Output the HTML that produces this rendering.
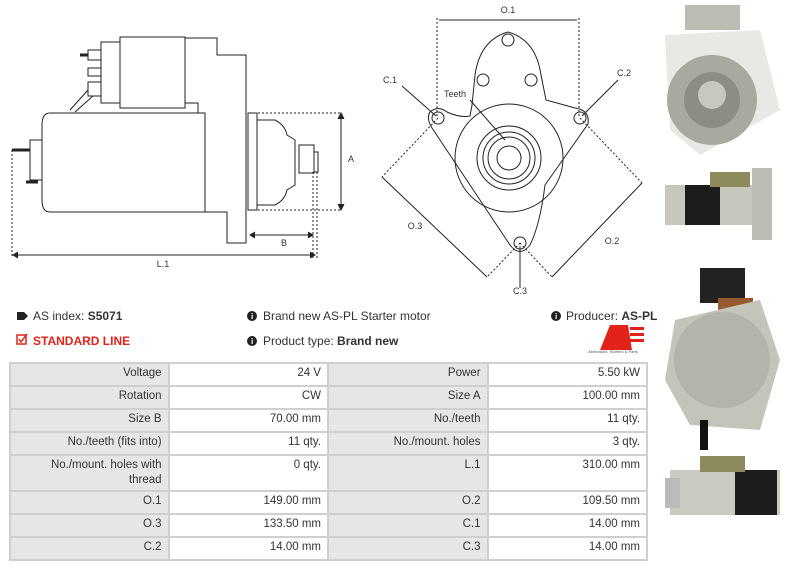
<!DOCTYPE html>
<html><head><meta charset="utf-8"><style>
body{margin:0;width:800px;height:569px;background:#fff;font-family:"Liberation Sans",sans-serif;position:relative;overflow:hidden;color:#333}
.t{position:absolute;font-size:12px;white-space:nowrap}
table{position:absolute;left:9px;top:362px;width:639px;border-collapse:collapse;font-size:11.5px;color:#333}
td{border:2px solid #cfcfcf;text-align:right;padding:2px 6px;height:17px;vertical-align:top;line-height:15px}
td.l{background:#e6e6e6}
</style></head><body>
<svg width="800" height="569" style="position:absolute;left:0;top:0" fill="none" stroke="#222" stroke-width="1">
<!-- left side view -->
<rect x="101" y="42" width="19" height="61"/>
<rect x="120" y="37" width="65" height="71"/>
<rect x="88" y="50" width="13" height="10"/><line x1="80" y1="55" x2="88" y2="55" stroke-width="3"/>
<rect x="88" y="68" width="13" height="8"/>
<rect x="88" y="82" width="13" height="14"/>
<path d="M88 90 L70 110 M93 96 L75 112"/>
<path d="M185 38 L217 38 L217 55 L246 55 L246 243 L227 243 L227 212 L205 212"/>
<path d="M185 103 L198 103 L198 113"/>
<path d="M50 113 L205 113 L205 212 L50 212 Q42 212 42 200 L42 125 Q42 113 50 113 Z"/>
<rect x="30" y="140" width="12" height="40"/><line x1="12" y1="150" x2="30" y2="150" stroke-width="3"/><line x1="26" y1="182" x2="38" y2="182" stroke-width="3"/>
<rect x="248" y="113" width="9" height="97"/>
<path d="M257 120 L275 120 Q285 125 287 135 L295 140 L295 185 L287 190 Q285 200 275 205 L257 205"/>
<rect x="299" y="145" width="15" height="28"/><rect x="314" y="152" width="4" height="20"/>
<g stroke-dasharray="2,2"><path d="M250 113 L341 113 M250 210 L341 210 M313 172 L313 258 M317 172 L317 258 M12 150 L12 258"/></g>
<path d="M341 115 L341 208 M250 235 L312 235 M13 255 L315 255"/>
<path d="M338 119 L341 113 L344 119 M338 204 L341 210 L344 204 M255 232 L250 235 L255 238 M308 232 L313 235 L308 238 M18 252 L13 255 L18 258 M310 252 L315 255 L310 258" fill="#222"/>
<!-- front view -->
<path d="M430 112 Q438 105 447 112 Q460 118 470 116 L472 105 L475 75 Q480 40 508 32 Q536 40 541 75 L546 100 L575 108 Q590 110 588 124 L545 185 Q540 225 530 245 Q520 258 510 245 L432 128 Q426 118 430 112 Z"/>
<circle cx="508" cy="40" r="6"/><circle cx="483" cy="80" r="6"/><circle cx="531" cy="80" r="6"/>
<circle cx="438" cy="118" r="6"/><circle cx="580" cy="118" r="6"/><circle cx="520" cy="243" r="6"/>
<circle cx="509" cy="158" r="54"/><circle cx="509" cy="158" r="32"/><circle cx="509" cy="158" r="26"/><circle cx="509" cy="158" r="21"/><circle cx="509" cy="158" r="12"/>
<g stroke-dasharray="2,2"><path d="M437 18 L437 118 M579 18 L579 118"/><path d="M438 118 L382 177 M520 243 L487 277 M580 118 L642 183 M520 243 L552 277"/></g>
<path d="M439 20 L577 20 M382 177 L487 277 M642 183 L552 277"/>
<path d="M402 86 L436 116 M618 80 L582 116 M470 100 L505 140 M520 288 L520 246"/>
<text x="508" y="13" font-size="9" fill="#333" stroke="none" text-anchor="middle">O.1</text>
<text x="390" y="83" font-size="9" fill="#333" stroke="none" text-anchor="middle">C.1</text>
<text x="624" y="76" font-size="9" fill="#333" stroke="none" text-anchor="middle">C.2</text>
<text x="455" y="97" font-size="9" fill="#333" stroke="none" text-anchor="middle">Teeth</text>
<text x="415" y="229" font-size="9" fill="#333" stroke="none" text-anchor="middle">O.3</text>
<text x="612" y="244" font-size="9" fill="#333" stroke="none" text-anchor="middle">O.2</text>
<text x="520" y="294" font-size="9" fill="#333" stroke="none" text-anchor="middle">C.3</text>
<text x="351" y="162" font-size="9" fill="#333" stroke="none" text-anchor="middle">A</text>
<text x="284" y="246" font-size="9" fill="#333" stroke="none" text-anchor="middle">B</text>
<text x="163" y="267" font-size="9" fill="#333" stroke="none" text-anchor="middle">L.1</text>
<!-- photos -->
<g stroke="none">
<rect x="685" y="5" width="55" height="25" fill="#bdbcb2"/>
<path d="M665 35 L760 30 L780 110 L700 155 L670 130 Z" fill="#e8e8e4"/>
<circle cx="712" cy="100" r="45" fill="#aaa99f"/><circle cx="712" cy="100" r="28" fill="#8e8d84"/><circle cx="712" cy="95" r="14" fill="#c9c8bf"/>
<rect x="665" y="185" width="95" height="40" fill="#c8c7bd"/><rect x="685" y="185" width="35" height="40" fill="#1c1c1c"/><rect x="710" y="172" width="40" height="15" fill="#8d8b5c"/><rect x="752" y="168" width="20" height="72" fill="#bdbcb2"/>
<rect x="700" y="268" width="45" height="35" fill="#222"/><rect x="718" y="298" width="35" height="12" fill="#9a5a30"/>
<path d="M675 320 L760 300 L780 360 L760 430 L690 425 L665 380 Z" fill="#c5c4ba"/><circle cx="722" cy="360" r="48" fill="#b5b4aa"/><rect x="700" y="420" width="8" height="30" fill="#111"/>
<rect x="670" y="470" width="110" height="45" fill="#cbcac0"/><rect x="735" y="470" width="42" height="45" fill="#1c1c1c"/><rect x="700" y="456" width="45" height="16" fill="#8d8b5c"/><rect x="665" y="478" width="15" height="30" fill="#bbb"/>
<!-- logo -->
<path d="M610 325 L628 325 L632 350 L600 350 Z" fill="#e2231a"/><rect x="630" y="327" width="14" height="3" fill="#e2231a"/><rect x="630" y="333" width="14" height="3" fill="#e2231a"/><rect x="630" y="339" width="14" height="3" fill="#e2231a"/>
</g>
<path d="M17 312 L24 312 L28 316 L24 320 L17 320 Z" fill="#222" stroke="none"/>
<rect x="17" y="335" width="9" height="9" stroke="#e2231a" stroke-width="1.5"/><path d="M19 339 L21 342 L27 334" stroke="#e2231a" stroke-width="1.5"/>
<circle cx="252" cy="316" r="5" fill="#222" stroke="none"/><circle cx="252" cy="341" r="5" fill="#222" stroke="none"/><circle cx="556" cy="316" r="5" fill="#222" stroke="none"/>
<text x="251" y="319" font-size="8" fill="#fff" stroke="none" font-weight="bold">i</text>
<text x="251" y="344" font-size="8" fill="#fff" stroke="none" font-weight="bold">i</text>
<text x="555" y="319" font-size="8" fill="#fff" stroke="none" font-weight="bold">i</text>
</svg>
<div class="t" style="left:33px;top:309px">AS index: <b>S5071</b></div>
<div class="t" style="left:33px;top:334px;color:#e2231a;font-weight:bold">STANDARD LINE</div>
<div class="t" style="left:263px;top:309px">Brand new AS-PL Starter motor</div>
<div class="t" style="left:263px;top:334px">Product type: <b>Brand new</b></div>
<div class="t" style="left:566px;top:309px">Producer: <b>AS-PL</b></div>
<div class="t" style="left:588px;top:349px;font-size:4px;color:#555">Alternators, Starters &amp; Parts</div>
<table>
<colgroup><col style="width:159px"><col style="width:160px"><col style="width:160px"><col style="width:160px"></colgroup>
<tr><td class="l">Voltage</td><td>24 V</td><td class="l">Power</td><td>5.50 kW</td></tr>
<tr><td class="l">Rotation</td><td>CW</td><td class="l">Size A</td><td>100.00 mm</td></tr>
<tr><td class="l">Size B</td><td>70.00 mm</td><td class="l">No./teeth</td><td>11 qty.</td></tr>
<tr><td class="l">No./teeth (fits into)</td><td>11 qty.</td><td class="l">No./mount. holes</td><td>3 qty.</td></tr>
<tr><td class="l" style="height:30px">No./mount. holes with<br>thread</td><td>0 qty.</td><td class="l">L.1</td><td>310.00 mm</td></tr>
<tr><td class="l">O.1</td><td>149.00 mm</td><td class="l">O.2</td><td>109.50 mm</td></tr>
<tr><td class="l">O.3</td><td>133.50 mm</td><td class="l">C.1</td><td>14.00 mm</td></tr>
<tr><td class="l">C.2</td><td>14.00 mm</td><td class="l">C.3</td><td>14.00 mm</td></tr>
</table>
</body></html>
